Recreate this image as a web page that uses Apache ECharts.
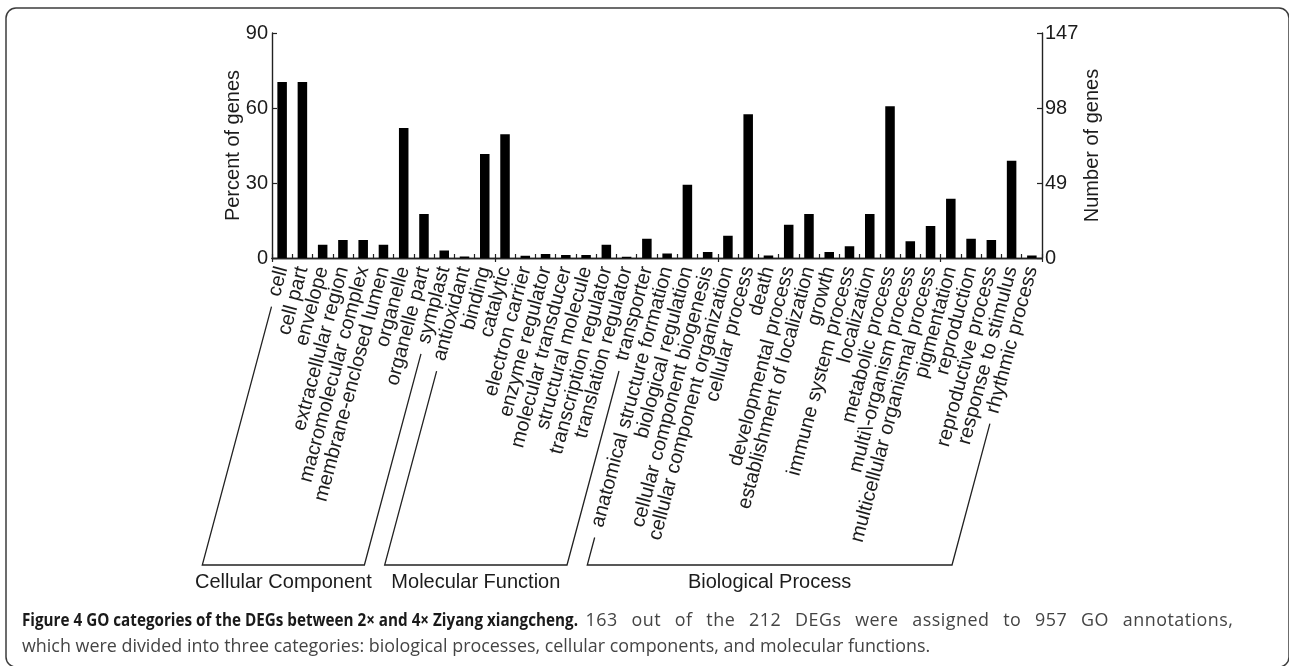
<!DOCTYPE html>
<html>
<head>
<meta charset="utf-8">
<script src="https://cdn.jsdelivr.net/npm/echarts@6/dist/echarts.min.js"></script>
<style>
  html, body { margin: 0; padding: 0; background: #ffffff; }
  #chart { width: 1289px; height: 666px; }
</style>
</head>
<body>
<div id="chart"></div>
<script>
// GO terms, in plotting order (grouped by ontology)
const categories = [
  'cell', 'cell part', 'envelope', 'extracellular region', 'macromolecular complex',
  'membrane-enclosed lumen', 'organelle', 'organelle part', 'symplast',
  'antioxidant', 'binding', 'catalytic', 'electron carrier', 'enzyme regulator',
  'molecular transducer', 'structural molecule', 'transcription regulator',
  'translation regulator', 'transporter',
  'anatomical structure formation', 'biological regulation', 'cellular component biogenesis',
  'cellular component organization', 'cellular process', 'death', 'developmental process',
  'establishment of localization', 'growth', 'immune system process', 'localization',
  'metabolic process', 'multi\\-organism process', 'multicellular organismal process',
  'pigmentation', 'reproduction', 'reproductive process', 'response to stimulus',
  'rhythmic process'
];

// Percent of annotated genes per term
const percentOfGenes = [
  70.4, 70.4, 5.3, 7.2, 7.2, 5.3, 52.0, 17.6, 3.0,
  0.6, 41.6, 49.5, 0.9, 1.6, 1.2, 1.2, 5.3, 0.5, 7.7,
  1.8, 29.3, 2.4, 8.9, 57.5, 1.0, 13.3, 17.6, 2.4, 4.7, 17.6,
  60.7, 6.7, 12.8, 23.7, 7.7, 7.2, 38.9, 1.0
];

// Ontology groups and how many consecutive terms each one spans
const groupNames = ['Cellular Component', 'Molecular Function', 'Biological Process'];
const groupSizes = [9, 10, 19];

// Axis ranges: left = percent, right = number of genes
const percentTicks = { max: 90, step: 30 };
const countTicks = { max: 147, step: 49 };

const captionBold = 'Figure 4 GO categories of the DEGs between 2\u00d7 and 4\u00d7 Ziyang xiangcheng.';
const captionRest1 = '163 out of the 212 DEGs were assigned to 957 GO annotations,';
const captionLine2 = 'which were divided into three categories: biological processes, cellular components, and molecular functions.';

const FONT = '"Liberation Sans", Arial, Helvetica, sans-serif';
const FONT_SIZE = 20;
const INK = '#1c1c1c';
const LABEL_ROTATE = 75;
const LABEL_MARGIN = 9;
const ARM_GAP = 11;
const BRACKET_Y = 565;

const CAP_FONT = '"Open Sans", "Noto Sans", sans-serif';
const CAP_SIZE = 17.9;
const CAP_LEFT = 22, CAP_RIGHT = 1233;
const CAP_BOLD_WIDTH = 556;
const CAP_TRACKING = 0.5;

const axisLine = { show: true, lineStyle: { color: '#222', width: 1.4 } };
const axisText = { color: INK, fontFamily: FONT, fontSize: FONT_SIZE };
const tick = { show: true, inside: true, length: 4, lineStyle: { color: '#222', width: 1.2 } };

const chart = echarts.init(document.getElementById('chart'), null, { renderer: 'canvas' });

const option = {
  animation: false,
  backgroundColor: '#ffffff',
  grid: { left: 272, right: 247, top: 33, bottom: 408, containLabel: false, outerBoundsMode: 'none' },
  xAxis: [
    {
      type: 'category', position: 'bottom', data: categories,
      axisLine: axisLine, axisTick: tick,
      axisLabel: Object.assign({ interval: 0, rotate: LABEL_ROTATE, margin: LABEL_MARGIN }, axisText),
      splitLine: { show: false }
    },
    {
      type: 'category', position: 'top', data: categories,
      axisLine: axisLine, axisTick: tick,
      axisLabel: { show: false },
      splitLine: { show: false }
    }
  ],
  yAxis: [
    {
      type: 'value', position: 'left', min: 0, max: percentTicks.max, interval: percentTicks.step,
      name: 'Percent of genes', nameLocation: 'middle', nameRotate: 90, nameGap: 29,
      nameMoveOverlap: false,
      nameTextStyle: axisText,
      axisLine: axisLine,
      axisTick: Object.assign({}, tick, { length: 5 }),
      axisLabel: Object.assign({ margin: 4 }, axisText),
      splitLine: { show: false }
    },
    {
      type: 'value', position: 'right', min: 0, max: countTicks.max, interval: countTicks.step,
      name: 'Number of genes', nameLocation: 'middle', nameRotate: 90, nameGap: 40,
      nameMoveOverlap: false,
      nameTextStyle: axisText,
      axisLine: axisLine,
      axisTick: Object.assign({}, tick, { length: 5 }),
      axisLabel: Object.assign({ margin: 3 }, axisText),
      splitLine: { show: false }
    }
  ],
  series: [
    {
      type: 'bar', xAxisIndex: 0, yAxisIndex: 0,
      data: percentOfGenes,
      barWidth: '47%',
      itemStyle: { color: '#000000' },
      silent: true
    }
  ]
};

chart.setOption(option);

const measure = document.createElement('canvas').getContext('2d');

// Brackets under the rotated term labels, running parallel to the text
measure.font = FONT_SIZE + 'px ' + FONT;
const rad = LABEL_ROTATE * Math.PI / 180;
const dirX = -Math.cos(rad), dirY = Math.sin(rad);
const axisY = chart.convertToPixel({ yAxisIndex: 0 }, 0);

function armTop(i) {
  const x = chart.convertToPixel({ xAxisIndex: 0 }, i);
  const len = measure.measureText(categories[i]).width + ARM_GAP;
  return [x + dirX * len, axisY + LABEL_MARGIN + dirY * len];
}
function foot(p) {
  const t = (BRACKET_Y - p[1]) / dirY;
  return [p[0] + dirX * t, BRACKET_Y];
}

const graphics = [
  {
    type: 'rect', silent: true,
    shape: { x: 6, y: 8, width: 1283, height: 659, r: 10 },
    style: { fill: 'none', stroke: '#3c3c3c', lineWidth: 1.5 }
  }
];

let start = 0;
groupSizes.forEach((n, g) => {
  const a = armTop(start), b = armTop(start + n - 1);
  const fa = foot(a), fb = foot(b);
  graphics.push({
    type: 'polyline', silent: true,
    shape: { points: [a, fa, fb, b] },
    style: { fill: 'none', stroke: '#222', lineWidth: 1.3 }
  });
  graphics.push({
    type: 'text', silent: true,
    x: (fa[0] + fb[0]) / 2, y: BRACKET_Y + 17,
    style: {
      text: groupNames[g], fill: INK, font: FONT_SIZE + 'px ' + FONT,
      align: 'center', verticalAlign: 'middle'
    }
  });
  start += n;
});

// Caption: condensed bold title, then a justified first line and a ragged last line
const boldFont = 'bold ' + CAP_SIZE + 'px ' + CAP_FONT;
const normalFont = CAP_SIZE + 'px ' + CAP_FONT;
measure.font = boldFont;
const boldScale = CAP_BOLD_WIDTH / measure.measureText(captionBold).width;
graphics.push({
  type: 'text', silent: true, x: CAP_LEFT, y: 621, scaleX: boldScale,
  style: { text: captionBold, font: boldFont, fill: '#1a1a1a', align: 'left', verticalAlign: 'middle' }
});

// Justify the rest of line 1: slight tracking inside words, the remainder goes to word spaces
measure.font = normalFont;
const words = captionRest1.split(' ');
const restLeft = CAP_LEFT + CAP_BOLD_WIDTH + measure.measureText(' ').width * 1.6;
const wordWidths = words.map(w => measure.measureText(w).width + CAP_TRACKING * (w.length - 1));
const wordTotal = wordWidths.reduce((s, w) => s + w, 0);
const wordGap = (CAP_RIGHT - restLeft - wordTotal) / (words.length - 1);
let cx = restLeft;
words.forEach((w, wi) => {
  let gx = cx;
  for (const ch of w) {
    graphics.push({
      type: 'text', silent: true, x: gx, y: 621,
      style: { text: ch, font: normalFont, fill: '#444444', align: 'left', verticalAlign: 'middle' }
    });
    gx += measure.measureText(ch).width + CAP_TRACKING;
  }
  cx += wordWidths[wi] + wordGap;
});

graphics.push({
  type: 'text', silent: true, x: CAP_LEFT, y: 647,
  style: { text: captionLine2, font: normalFont, fill: '#444444', align: 'left', verticalAlign: 'middle' }
});

chart.setOption({ graphic: graphics });
</script>
</body>
</html>
